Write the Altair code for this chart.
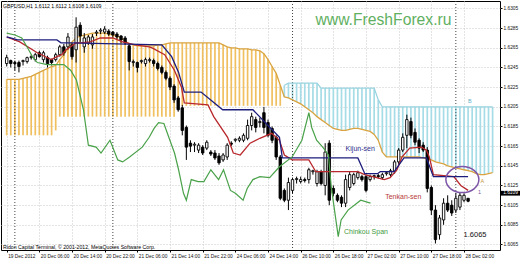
import altair as alt
import pandas as pd

# ---------------- data ----------------
symbol = "GBPUSD,H1"
watermark = "www.FreshForex.ru"
copyright_text = "Ridon Capital Terminal, \u00a9 2001-2012, MetaQuotes Software Corp."

x_tick_bars = [0, 8, 16, 24, 32, 40, 48, 56, 64, 72, 80, 88, 96, 104, 112]
x_tick_labels = ["19 Dec 2012", "20 Dec 06:00", "20 Dec 14:00", "20 Dec 22:00",
                 "21 Dec 06:00", "21 Dec 14:00", "21 Dec 22:00", "24 Dec 06:00",
                 "24 Dec 14:00", "26 Dec 10:00", "26 Dec 18:00", "27 Dec 02:00",
                 "27 Dec 10:00", "27 Dec 18:00", "28 Dec 02:00"]
y_ticks = [1.6065, 1.6085, 1.6105, 1.6125, 1.6145, 1.6165, 1.6185,
           1.6205, 1.6225, 1.6245, 1.6265, 1.6285, 1.6305]
separator_bars = [2, 26, 70, 110]

opens = [1.6249, 1.6252, 1.6250, 1.6250, 1.6251, 1.6251, 1.6255, 1.6253, 1.6260, 1.6253,
         1.6255, 1.6253, 1.6253, 1.6258, 1.6266, 1.6266, 1.6268, 1.6263, 1.6288, 1.6266,
         1.6270, 1.6268, 1.6280, 1.6282, 1.6281, 1.6282, 1.6281, 1.6279, 1.6277, 1.6275,
         1.6267, 1.6250, 1.6250, 1.6251, 1.6249, 1.6252, 1.6252, 1.6249, 1.6245, 1.6240,
         1.6234, 1.6226, 1.6214, 1.6204, 1.6184, 1.6168, 1.6166, 1.6161, 1.6164, 1.6163,
         1.6159, 1.6158, 1.6155, 1.6151, 1.6154, 1.6168, 1.6171, 1.6171, 1.6171, 1.6173,
         1.6186, 1.6192, 1.6189, 1.6199, 1.6189, 1.6183, 1.6174, 1.6154, 1.6120, 1.6110,
         1.6120, 1.6131, 1.6129, 1.6131, 1.6131, 1.6139, 1.6127, 1.6139, 1.6125, 1.6168,
         1.6122, 1.6115, 1.6113, 1.6107, 1.6123, 1.6127, 1.6133, 1.6134, 1.6134, 1.6131,
         1.6134, 1.6135, 1.6133, 1.6137, 1.6136, 1.6139, 1.6149, 1.6161, 1.6176, 1.6190,
         1.6179, 1.6171, 1.6166, 1.6161, 1.6123, 1.6100, 1.6075, 1.6090, 1.6107, 1.6105,
         1.6100, 1.6103, 1.6110, 1.6112]
highs = [1.6258, 1.6253, 1.6252, 1.6252, 1.6253, 1.6256, 1.6258, 1.6260, 1.6262, 1.6262,
         1.6257, 1.6254, 1.6260, 1.6268, 1.6269, 1.6280, 1.6270, 1.6296, 1.6291, 1.6280,
         1.6278, 1.6279, 1.6283, 1.6285, 1.6287, 1.6284, 1.6282, 1.6281, 1.6278, 1.6277,
         1.6269, 1.6253, 1.6251, 1.6253, 1.6255, 1.6255, 1.6254, 1.6251, 1.6247, 1.6242,
         1.6236, 1.6228, 1.6216, 1.6207, 1.6186, 1.6171, 1.6169, 1.6168, 1.6166, 1.6171,
         1.6161, 1.6161, 1.6158, 1.6158, 1.6168, 1.6170, 1.6173, 1.6175, 1.6178, 1.6192,
         1.6199, 1.6195, 1.6194, 1.6205, 1.6192, 1.6185, 1.6176, 1.6156, 1.6122, 1.6133,
         1.6133, 1.6134, 1.6134, 1.6133, 1.6143, 1.6141, 1.6141, 1.6141, 1.6168, 1.6171,
         1.6125, 1.6117, 1.6115, 1.6136, 1.6139, 1.6138, 1.6140, 1.6136, 1.6136, 1.6136,
         1.6136, 1.6137, 1.6138, 1.6139, 1.6142, 1.6151, 1.6163, 1.6178, 1.6197, 1.6194,
         1.6183, 1.6173, 1.6169, 1.6164, 1.6125, 1.6105, 1.6095, 1.6112, 1.6115, 1.6110,
         1.6117, 1.6118, 1.6117, 1.6112]
lows = [1.6246, 1.6245, 1.6242, 1.6240, 1.6247, 1.6249, 1.6253, 1.6251, 1.6255, 1.6250,
        1.6245, 1.6247, 1.6251, 1.6256, 1.6257, 1.6263, 1.6253, 1.6250, 1.6271, 1.6260,
        1.6268, 1.6264, 1.6277, 1.6279, 1.6279, 1.6277, 1.6276, 1.6274, 1.6270, 1.6268,
        1.6242, 1.6246, 1.6240, 1.6249, 1.6246, 1.6250, 1.6246, 1.6242, 1.6238, 1.6232,
        1.6222, 1.6209, 1.6200, 1.6176, 1.6151, 1.6159, 1.6159, 1.6158, 1.6156, 1.6161,
        1.6155, 1.6151, 1.6146, 1.6149, 1.6151, 1.6165, 1.6169, 1.6169, 1.6169, 1.6171,
        1.6181, 1.6179, 1.6184, 1.6178, 1.6174, 1.6168, 1.6151, 1.6110, 1.6108, 1.6100,
        1.6117, 1.6127, 1.6127, 1.6128, 1.6127, 1.6136, 1.6124, 1.6125, 1.6115, 1.6105,
        1.6114, 1.6108, 1.6103, 1.6103, 1.6120, 1.6125, 1.6131, 1.6129, 1.6118, 1.6129,
        1.6131, 1.6132, 1.6131, 1.6135, 1.6134, 1.6137, 1.6146, 1.6159, 1.6163, 1.6173,
        1.6166, 1.6158, 1.6159, 1.6118, 1.6095, 1.6066, 1.6070, 1.6085, 1.6098, 1.6094,
        1.6097, 1.6100, 1.6108, 1.6108]
closes = [1.6255, 1.6249, 1.6249, 1.6246, 1.6252, 1.6255, 1.6256, 1.6258, 1.6256, 1.6260,
          1.6249, 1.6250, 1.6258, 1.6266, 1.6260, 1.6276, 1.6256, 1.6286, 1.6277, 1.6275,
          1.6276, 1.6276, 1.6281, 1.6283, 1.6284, 1.6279, 1.6278, 1.6276, 1.6273, 1.6270,
          1.6251, 1.6251, 1.6245, 1.6252, 1.6253, 1.6253, 1.6249, 1.6244, 1.6240, 1.6234,
          1.6225, 1.6212, 1.6202, 1.6181, 1.6164, 1.6165, 1.6167, 1.6166, 1.6158, 1.6169,
          1.6157, 1.6153, 1.6148, 1.6156, 1.6166, 1.6167, 1.6172, 1.6173, 1.6176, 1.6186,
          1.6195, 1.6184, 1.6190, 1.6184, 1.6176, 1.6171, 1.6154, 1.6112, 1.6110, 1.6128,
          1.6131, 1.6132, 1.6131, 1.6130, 1.6141, 1.6140, 1.6139, 1.6127, 1.6159, 1.6110,
          1.6117, 1.6110, 1.6107, 1.6131, 1.6136, 1.6136, 1.6138, 1.6131, 1.6120, 1.6134,
          1.6135, 1.6134, 1.6136, 1.6138, 1.6140, 1.6149, 1.6161, 1.6174, 1.6192, 1.6176,
          1.6169, 1.6163, 1.6161, 1.6122, 1.6100, 1.6070, 1.6092, 1.6107, 1.6100, 1.6097,
          1.6112, 1.6115, 1.6115, 1.6109]

senkou_a = [1.6233, 1.6233, 1.6233, 1.6233, 1.6234, 1.6235, 1.6236, 1.6238, 1.6240, 1.6242,
            1.6244, 1.6246, 1.6247, 1.6253, 1.6258, 1.6265, 1.6271, 1.6275, 1.6277, 1.6278,
            1.6279, 1.6280, 1.6280, 1.6280, 1.6280, 1.6279, 1.6278, 1.6277, 1.6275, 1.6272,
            1.6269, 1.6268, 1.6267, 1.6267, 1.6267, 1.6267, 1.6267, 1.6268, 1.6268, 1.6269,
            1.6270, 1.6270, 1.6270, 1.6270, 1.6270, 1.6270, 1.6270, 1.6270, 1.6270, 1.6270,
            1.6270, 1.6270, 1.6270, 1.6268, 1.6266, 1.6265, 1.6265, 1.6264, 1.6264, 1.6264,
            1.6263, 1.6263, 1.6262, 1.6259, 1.6253, 1.6246, 1.6239, 1.6227, 1.6215, 1.6214,
            1.6212, 1.6210, 1.6208, 1.6205, 1.6202, 1.6199, 1.6195, 1.6192, 1.6189, 1.6186,
            1.6183, 1.6182, 1.6181, 1.6181, 1.6182, 1.6183, 1.6183, 1.6182, 1.6181, 1.6180,
            1.6177, 1.6171, 1.6159, 1.6154, 1.6154, 1.6154, 1.6154, 1.6154, 1.6154, 1.6154,
            1.6154, 1.6154, 1.6153, 1.6152, 1.6151, 1.6149, 1.6148, 1.6147, 1.6145, 1.6144,
            1.6143, 1.6142, 1.6141, 1.6140, 1.6139, 1.6137, 1.6136, 1.6136, 1.6137, 1.6138]
senkou_b = ([1.6176] * 12 + [1.6181] + [1.6195] * 29 + [1.6202] + [1.6206] * 25 +
            [1.6227] + [1.6229] * 8 + [1.6224] * 14 + [1.6212] + [1.6205] * 28)

tenkan_bar = [0, 3.2, 7.5, 10.9, 12.3, 13.5, 14.5, 15.7, 16.9, 18.1, 20.5, 22.9, 26, 27.2,
              28.4, 31.5, 34.9, 35.6, 38.7, 41.1, 42.8, 43.5, 49.3, 50.7, 54.1, 55.5, 57.2,
              59.6, 62, 64.9, 66.8, 68, 69.9, 74, 75.7, 86, 87.7, 92.5, 93.9, 95.6, 96.8,
              98.7, 101.6, 102.8, 103.5, 104.5, 109.5, 111.2, 113]
tenkan_price = [1.6276, 1.6271, 1.6260, 1.6253, 1.6256, 1.6258, 1.6263, 1.6266, 1.6270, 1.6270,
                1.6271, 1.6275, 1.6275, 1.6273, 1.6271, 1.6268, 1.6266, 1.6265, 1.6258, 1.6242,
                1.6225, 1.6209, 1.6207, 1.6195, 1.6174, 1.6158, 1.6156, 1.6168, 1.6173, 1.6178,
                1.6171, 1.6156, 1.6151, 1.6151, 1.6139, 1.6139, 1.6136, 1.6131, 1.6133, 1.6141,
                1.6154, 1.6163, 1.6164, 1.6161, 1.6154, 1.6136, 1.6134, 1.6125, 1.6120]

kijun_bar = [0, 2.7, 12.3, 13.3, 15.7, 38, 40.4, 42.1, 43.5, 47.6, 52.9, 60.3, 66.8, 67.5,
             86, 87.7, 90.8, 91.5, 94.9, 97.3, 102.8, 104.5, 113]
kijun_price = [1.6276, 1.6273, 1.6273, 1.6270, 1.6270, 1.6268, 1.6256, 1.6240, 1.6220, 1.6220,
               1.6202, 1.6202, 1.6174, 1.6153, 1.6153, 1.6137, 1.6137, 1.6139, 1.6139, 1.6153,
               1.6153, 1.6134, 1.6134]

chikou_bar = [0, 2, 3.7, 5.1, 6.3, 7.5, 9.9, 14, 15.7, 17.1, 18.8, 19.5, 20, 21.9, 23.1,
              25.3, 27.2, 28.4, 30.1, 33.2, 34.9, 36.1, 37.2, 38.5, 39.7, 41.1, 42.1, 43.3,
              44, 45.2, 46.9, 48.3, 50, 51.9, 53.1, 54.8, 56, 57.9, 58.9, 60.3, 62, 64.4,
              66.8, 69.9, 72.3, 74, 74.7, 75.9, 77.6, 78.8, 79.5, 81.2, 81.9, 83.6, 86.7, 89.1]
chikou_price = [1.6280, 1.6278, 1.6275, 1.6265, 1.6256, 1.6250, 1.6248, 1.6248, 1.6242, 1.6232,
                1.6202, 1.6181, 1.6166, 1.6164, 1.6158, 1.6171, 1.6151, 1.6149, 1.6154, 1.6164,
                1.6174, 1.6183, 1.6189, 1.6188, 1.6174, 1.6158, 1.6141, 1.6117, 1.6110, 1.6131,
                1.6129, 1.6129, 1.6141, 1.6131, 1.6141, 1.6120, 1.6117, 1.6110, 1.6122, 1.6131,
                1.6134, 1.6133, 1.6144, 1.6154, 1.6171, 1.6199, 1.6184, 1.6171, 1.6163, 1.6156,
                1.6123, 1.6073, 1.6090, 1.6100, 1.6110, 1.6107]

ann_text = ["Kijun-sen", "Tenkan-sen", "Chinkou Span", "1.6065", "B", "A", "1"]
ann_bar = [83, 92.7, 82.6, 111.9, 113.4, 116.5, 115.8]
ann_price = [1.6162, 1.6113, 1.6078, 1.6075, 1.6211, 1.6130, 1.6118]
circle_bar = [111.6]
circle_price = [1.6131]

# ---------------- styling ----------------
FONT = "Liberation Sans"
XS = alt.Scale(domain=[-0.17, 119.59], nice=False, zero=False)
YS = alt.Scale(domain=[1.60594, 1.63126], nice=False, zero=False)
ORANGE_HATCH = "#f0c060"
BLUE_HATCH = "#a6dce6"
SENKOU_A = "#d9a441"
SENKOU_B = "#98d3e0"
TENKAN = "#b8282c"
KIJUN = "#1c1c7c"
CHIKOU = "#4aa24a"

label_expr = "[" + ",".join(f"'{s}'" for s in x_tick_labels) + "][round(datum.value/8)]"

X_AXIS = alt.Axis(values=x_tick_bars, labelExpr=label_expr, labelAlign="left",
                  labelBaseline="top", labelFontSize=4.8, labelFont=FONT, labelColor="#111",
                  labelPadding=1, labelOffset=1, tickSize=2, tickColor="#000", domain=False,
                  grid=True, gridColor="#c8c8c8", gridDash=[1, 2], title=None,
                  labelOverlap=False, labelFlush=False)
Y_AXIS = alt.Axis(orient="right", values=y_ticks, format=".4f", labelFontSize=4.8,
                  labelFont=FONT, labelColor="#111", labelAlign="left",
                  labelBaseline="middle", labelPadding=1, tickSize=2, tickColor="#000",
                  domain=False, grid=True, gridColor="#c8c8c8", gridDash=[1, 2],
                  title=None, labelOverlap=False, labelFlush=False)


def xq(field="i"):
    return alt.X(f"{field}:Q", scale=XS, axis=X_AXIS)


def yq(field):
    return alt.Y(f"{field}:Q", scale=YS, axis=Y_AXIS)


cloud_df = pd.DataFrame({"i": list(range(len(senkou_a))), "a": senkou_a, "b": senkou_b})
candle_df = pd.DataFrame({"i": list(range(len(opens))), "o": opens, "h": highs,
                          "l": lows, "c": closes})
tenkan_df = pd.DataFrame({"i": tenkan_bar, "p": tenkan_price})
kijun_df = pd.DataFrame({"i": kijun_bar, "p": kijun_price})
chikou_df = pd.DataFrame({"i": chikou_bar, "p": chikou_price})
sep_df = pd.DataFrame({"i": separator_bars})
ann_df = pd.DataFrame({"k": list(range(len(ann_text))), "t": ann_text, "i": ann_bar, "p": ann_price})
circle_df = pd.DataFrame({"i": circle_bar, "p": circle_price})
last_df = pd.DataFrame({"p": [closes[-1]], "t": [f"{closes[-1]:.4f}"]})

hatch = alt.Chart(cloud_df).transform_calculate(
    kind="datum.a >= datum.b ? 'up' : 'down'"
).mark_rule(strokeWidth=1.7).encode(
    x=xq(), y=yq("a"), y2="b:Q",
    color=alt.Color("kind:N", scale=alt.Scale(domain=["up", "down"],
                                              range=[ORANGE_HATCH, BLUE_HATCH]), legend=None),
)

seps = alt.Chart(sep_df).mark_rule(color="#444", strokeDash=[1, 2], strokeWidth=1).encode(x=xq())

b_line = alt.Chart(cloud_df).transform_filter("datum.i >= 68").mark_line(
    color=SENKOU_B, strokeWidth=1.2).encode(x=xq(), y=yq("b"))
a_line = alt.Chart(cloud_df).mark_line(color=SENKOU_A, strokeWidth=1.3).encode(x=xq(), y=yq("a"))

wicks = alt.Chart(candle_df).mark_rule(color="black", strokeWidth=1).encode(
    x=xq(), y=yq("l"), y2="h:Q")
bodies = alt.Chart(candle_df).transform_calculate(
    dir="datum.c >= datum.o ? 'up' : 'down'"
).mark_bar(size=2.4, stroke="black", strokeWidth=0.9).encode(
    x=xq(), y=yq("o"), y2="c:Q",
    fill=alt.Fill("dir:N", scale=alt.Scale(domain=["up", "down"], range=["white", "black"]),
                  legend=None),
)

tenkan = alt.Chart(tenkan_df).mark_line(color=TENKAN, strokeWidth=1.3).encode(x=xq(), y=yq("p"))
kijun = alt.Chart(kijun_df).mark_line(color=KIJUN, strokeWidth=1.3).encode(x=xq(), y=yq("p"))
chikou = alt.Chart(chikou_df).mark_line(color=CHIKOU, strokeWidth=1.2).encode(x=xq(), y=yq("p"))

ann_styles = [
    dict(color="#2b2b8c", fontSize=7, align="left"),
    dict(color="#b83a3a", fontSize=7, align="left"),
    dict(color="#3f9a3f", fontSize=7, align="left"),
    dict(color="#111111", fontSize=7.5, align="left"),
    dict(color="#5fb3c9", fontSize=5.5, align="center"),
    dict(color="#c9963c", fontSize=5.5, align="center"),
    dict(color="#7d56a8", fontSize=5.5, align="center"),
]
ann_layers = []
for k, st in enumerate(ann_styles):
    ann_layers.append(
        alt.Chart(ann_df).transform_filter(f"datum.k == {k}").mark_text(
            font=FONT, baseline="middle", **st).encode(x=xq(), y=yq("p"), text="t:N"))

ellipse_path = ("M-1,0C-1,-0.436,-0.552,-0.79,0,-0.79C0.552,-0.79,1,-0.436,1,0"
                "C1,0.436,0.552,0.79,0,0.79C-0.552,0.79,-1,0.436,-1,0Z")
circle = alt.Chart(circle_df).mark_point(shape=ellipse_path, size=1089, filled=False,
                                         stroke="#7d56a8", strokeWidth=1.5, opacity=1).encode(
    x=xq(), y=yq("p"))

title_df = pd.DataFrame({"t": [f"{symbol} {opens[-1]:.4f} {highs[-1]:.4f} {lows[-1]:.4f} {closes[-1]:.4f}"]})
title = alt.Chart(title_df).mark_text(align="left", baseline="alphabetic", font=FONT,
                                      fontSize=5.2, color="#000").encode(
    x=alt.value(2), y=alt.value(7.3), text="t:N")
wm = alt.Chart(pd.DataFrame({"t": [watermark]})).mark_text(
    align="center", baseline="alphabetic", font=FONT, fontSize=15.7, color="#5fb05f").encode(
    x=alt.value(382.5), y=alt.value(24), text="t:N")
copy = alt.Chart(pd.DataFrame({"t": [copyright_text]})).mark_text(
    align="left", baseline="alphabetic", font=FONT, fontSize=5.2, color="#000").encode(
    x=alt.value(2), y=alt.value(248.2), text="t:N")

box = alt.Chart(last_df).mark_point(shape="M-1,-0.25H1V0.25H-1Z", size=361, filled=True,
                                    color="black", opacity=1).encode(
    x=alt.value(509.5), y=yq("p"), yOffset=alt.value(-8))
box_text = alt.Chart(last_df).mark_text(align="center", baseline="middle", font=FONT,
                                        fontSize=4.8, color="white").encode(
    x=alt.value(509.5), y=yq("p"), yOffset=alt.value(-8), text="t:N")

chart = alt.layer(
    hatch, seps, b_line, a_line, wicks, bodies, tenkan, kijun, chikou,
    *ann_layers, circle, title, wm, copy, box, box_text
).properties(
    width=499, height=249,
    padding={"left": 1, "top": 1, "right": 20, "bottom": 10},
    autosize=alt.AutoSizeParams(type="none"),
    background="white",
).configure_view(stroke="black", strokeWidth=1)

chart.save("out.html", embed_options={"renderer": "svg", "actions": False})
